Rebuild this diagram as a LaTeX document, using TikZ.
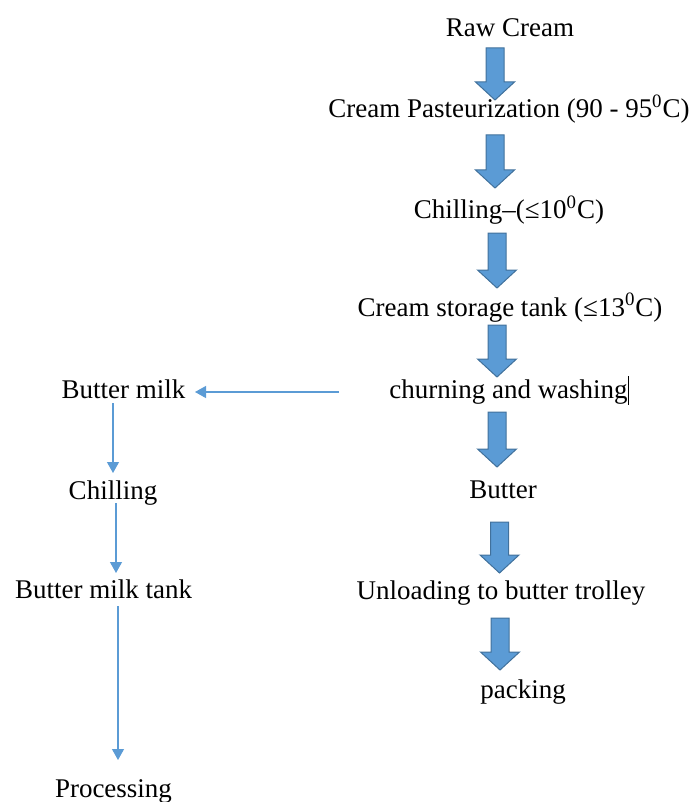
\documentclass[tikz,border=0pt]{standalone}
\usepackage{fontspec}
\setmainfont{Liberation Serif}
\usetikzlibrary{arrows.meta}
\definecolor{arrowfill}{HTML}{5B9BD5}
\definecolor{arrowedge}{HTML}{41719C}
\definecolor{linecol}{HTML}{5B9BD5}
\tikzset{
  lbl/.style={anchor=base, inner sep=0pt, font=\fontsize{13.5}{16}\selectfont, text=black},
  blockarrow/.style={fill=arrowfill, draw=arrowedge, line width=0.5pt, line join=miter},
  thinarrow/.style={draw=linecol, line width=0.6pt, -{Triangle[width=6pt,length=5.5pt]}}
}
% x, top, tip
\newcommand{\blockdown}[3]{%
  \draw[blockarrow] (#1-9,#2) -- (#1+9,#2) -- (#1+9,#3-18) -- (#1+19.5,#3-18)
    -- (#1,#3) -- (#1-19.5,#3-18) -- (#1-9,#3-18) -- cycle;}
\begin{document}
\begin{tikzpicture}[x=0.5pt,y=-0.5pt]
\useasboundingbox (0,0) rectangle (694,802);
% main column
\node[lbl] (raw) at (510,37) {Raw Cream};
\node[lbl] (past) at (509,118) {Cream Pasteurization (90 - 95\textsuperscript{0}C)};
\node[lbl] (chill) at (509,219) {Chilling–(≤10\textsuperscript{0}C)};
\node[lbl] (store) at (510,316) {Cream storage tank (≤13\textsuperscript{0}C)};
\node[lbl] (churn) at (509,398) {churning and washing\rule[-0.25em]{0.5pt}{1.05em}};
\node[lbl] (butter) at (503,498) {Butter};
\node[lbl] (unload) at (501,599) {Unloading to butter trolley};
\node[lbl] (pack) at (523,698) {packing};
% block arrows
\blockdown{495}{48}{100}
\blockdown{495}{135}{188}
\blockdown{497}{233}{288}
\blockdown{497}{325}{377}
\blockdown{497}{412}{467}
\blockdown{499.5}{522}{573}
\blockdown{500}{618}{670}
% side column
\node[lbl] (bm) at (123.5,398) {Butter milk};
\node[lbl] (chill2) at (113,499) {Chilling};
\node[lbl] (bmt) at (103.5,598) {Butter milk tank};
\node[lbl] (proc) at (113.5,797) {Processing};
% thin connectors
\coordinate (hstart) at (339,392);
\coordinate (hend) at (195,392);
\coordinate (v1s) at (113,403);
\coordinate (v1e) at (113,473);
\coordinate (v2s) at (116,503);
\coordinate (v2e) at (116,573);
\coordinate (v3s) at (118,606);
\coordinate (v3e) at (118,760);
\draw[thinarrow] (hstart) -- (hend);
\draw[thinarrow] (v1s) -- (v1e);
\draw[thinarrow] (v2s) -- (v2e);
\draw[thinarrow] (v3s) -- (v3e);
\end{tikzpicture}
\end{document}
